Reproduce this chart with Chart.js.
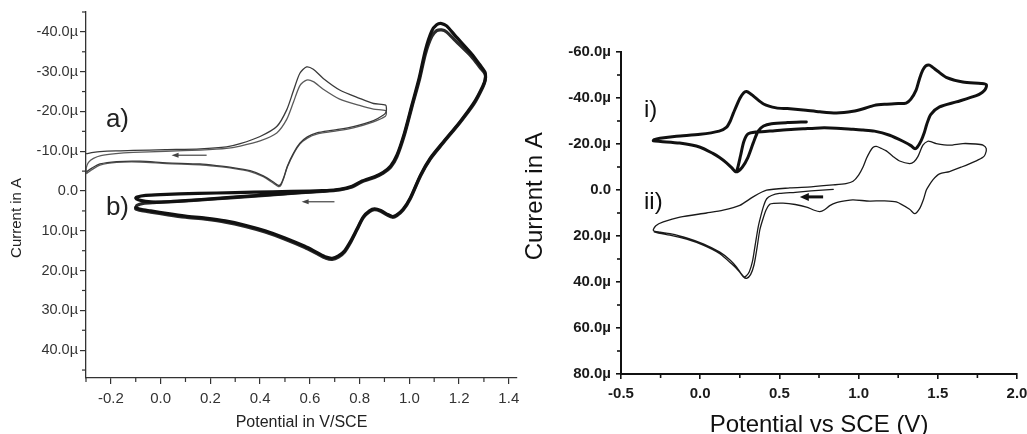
<!DOCTYPE html>
<html>
<head>
<meta charset="utf-8">
<script src="https://cdn.jsdelivr.net/npm/chart.js@4/dist/chart.umd.min.js"></script>
<style>
  body { margin: 0; background: #fff; }
  #wrap { position: relative; width: 1027px; height: 434px; overflow: hidden; background: #fff; }
  #leftChart { position: absolute; left: 0; top: 0; }
  #rightChart { position: absolute; left: 520px; top: 0; }
</style>
</head>
<body>
<div id="wrap">
  <canvas id="leftChart" width="520" height="434"></canvas>
  <canvas id="rightChart" width="507" height="434"></canvas>
</div>
<script>
// ---- left panel: axes ----
const leftXTicks = [-0.2, 0.0, 0.2, 0.4, 0.6, 0.8, 1.0, 1.2, 1.4];
const leftXMinor = [-0.3, -0.1, 0.1, 0.3, 0.5, 0.7, 0.9, 1.1, 1.3];
const leftYTicks = [-40, -30, -20, -10, 0, 10, 20, 30, 40];
const leftYMinor = [-45, -35, -25, -15, -5, 5, 15, 25, 35, 45];

// ---- right panel: axes ----
const rightXTicks = [-0.5, 0.0, 0.5, 1.0, 1.5, 2.0];
const rightXMinor = [-0.25, 0.25, 0.75, 1.25, 1.75];
const rightYTicks = [-60, -40, -20, 0, 20, 40, 60, 80];
const rightYMinor = [-50, -30, -10, 10, 30, 50, 70];

// ---- left panel curves [potential V, current µA] ----
const curveA1 = [[-0.298,-9.4],[-0.27,-9.7],[-0.244,-9.9],[-0.18,-10.1],[-0.11,-10.2],[0.02,-10.4],[0.16,-10.6],[0.265,-11.1],[0.32,-11.9],[0.40,-13.7],[0.467,-16.2],[0.507,-20.4],[0.534,-25.2],[0.56,-29.6],[0.587,-31.2],[0.614,-30.6],[0.654,-28.3],[0.72,-25.4],[0.80,-23.3],[0.856,-22.0],[0.905,-21.6],[0.908,-20.6],[0.906,-19.8],[0.896,-19.1],[0.856,-17.7],[0.775,-16.2],[0.695,-15.3],[0.628,-14.6],[0.59,-13.6],[0.56,-12.0],[0.535,-9.6],[0.51,-6.3],[0.495,-3.4],[0.484,-1.8],[0.474,-1.4],[0.455,-2.2],[0.413,-3.8],[0.36,-5.1],[0.29,-5.9],[0.225,-6.4],[0.158,-6.8],[0.024,-7.1],[-0.083,-7.5],[-0.177,-7.4],[-0.244,-6.8],[-0.278,-5.7],[-0.296,-4.9]];
const curveA2 = [[-0.298,-4.6],[-0.299,-5.8],[-0.29,-7.2],[-0.27,-8.2],[-0.24,-8.9],[-0.18,-9.4],[-0.11,-9.7],[0.02,-10.0],[0.16,-10.3],[0.265,-10.7],[0.32,-11.3],[0.40,-12.6],[0.467,-14.6],[0.507,-18.0],[0.534,-22.3],[0.56,-26.5],[0.587,-27.9],[0.614,-27.5],[0.654,-25.6],[0.72,-23.1],[0.80,-21.5],[0.856,-20.6],[0.905,-20.2],[0.908,-19.6],[0.904,-18.8],[0.856,-17.4],[0.775,-15.9],[0.695,-15.0],[0.628,-14.3],[0.59,-13.3],[0.56,-11.8],[0.535,-9.4],[0.51,-6.1],[0.495,-3.2],[0.484,-1.5],[0.474,-1.1],[0.455,-1.9],[0.413,-3.6],[0.36,-4.9],[0.29,-5.7],[0.225,-6.2],[0.158,-6.6],[0.024,-6.9],[-0.083,-7.3],[-0.177,-7.2],[-0.244,-6.5],[-0.278,-5.3],[-0.298,-4.4]];
const curveB1 = [[0.70,-0.2],[0.60,0.0],[0.45,0.2],[0.30,0.4],[0.15,0.6],[0.0,0.9],[-0.06,1.1],[-0.095,1.5],[-0.1,1.8],[-0.09,2.2],[-0.06,2.6],[-0.02,2.8],[0.05,2.6],[0.15,2.2],[0.28,1.6],[0.42,1.0],[0.55,0.4],[0.65,0.0],[0.72,-0.4],[0.77,-1.2],[0.81,-2.5],[0.86,-3.6],[0.895,-4.7],[0.925,-6.3],[0.95,-9.0],[0.98,-14.5],[1.01,-21.5],[1.04,-28.5],[1.065,-35.5],[1.09,-40.2],[1.11,-41.8],[1.13,-42.1],[1.15,-41.5],[1.185,-39.0],[1.25,-34.5],[1.285,-31.6],[1.305,-29.8],[1.305,-28.0],[1.295,-26.3],[1.26,-22.2],[1.205,-17.5],[1.135,-12.2],[1.085,-8.3],[1.045,-4.0],[1.005,1.6],[0.975,4.6],[0.95,6.0],[0.932,6.4],[0.91,5.8],[0.885,4.9],[0.86,4.5],[0.84,5.0],[0.815,6.5],[0.79,9.5],[0.765,12.5],[0.74,15.0],[0.715,16.3],[0.69,16.9],[0.665,16.6],[0.63,15.5],[0.58,13.9],[0.50,11.8],[0.42,10.0],[0.34,8.6],[0.26,7.5],[0.18,6.8],[0.10,6.3],[0.03,5.7],[-0.04,5.0],[-0.08,4.6],[-0.1,4.2]];
const curveB2 = [[-0.1,4.2],[-0.095,3.6],[-0.07,3.1],[-0.03,2.9],[0.05,2.7],[0.15,2.3],[0.28,1.7],[0.42,1.1],[0.55,0.5],[0.65,0.1],[0.72,-0.3],[0.77,-1.0],[0.81,-2.3],[0.86,-3.4],[0.895,-4.5],[0.925,-6.0],[0.95,-8.6],[0.98,-14.0],[1.01,-21.0],[1.04,-27.8],[1.065,-34.5],[1.09,-38.8],[1.11,-40.3],[1.13,-40.5],[1.15,-40.0],[1.185,-37.8],[1.25,-33.8],[1.285,-31.0],[1.305,-29.4],[1.305,-27.8],[1.295,-26.0],[1.26,-21.9],[1.205,-17.3],[1.135,-12.0],[1.085,-8.1],[1.045,-3.8],[1.005,1.8],[0.975,4.8],[0.95,6.2],[0.932,6.6],[0.91,6.0],[0.885,5.1],[0.86,4.7],[0.84,5.2],[0.815,6.7],[0.79,9.7],[0.765,12.8],[0.74,15.3],[0.715,16.6],[0.69,17.2],[0.665,16.9],[0.63,15.8],[0.58,14.2],[0.50,12.1],[0.42,10.3],[0.34,8.9],[0.26,7.8],[0.18,7.1],[0.10,6.6],[0.03,6.0],[-0.04,5.3],[-0.08,4.9],[-0.1,4.5]];

// ---- right panel curves ----
const curveI = [[0.67,-29.6],[0.55,-29.3],[0.45,-28.8],[0.40,-27.8],[0.365,-25.5],[0.335,-20.5],[0.30,-14.0],[0.265,-9.8],[0.24,-8.2],[0.222,-8.0],[0.20,-9.6],[0.166,-11.8],[0.12,-14.2],[0.08,-15.9],[0.0,-18.6],[-0.13,-20.4],[-0.25,-21.1],[-0.296,-21.4],[-0.29,-21.9],[-0.254,-22.5],[-0.15,-23.4],[0.0,-24.2],[0.12,-25.6],[0.165,-27.2],[0.19,-30.0],[0.21,-33.5],[0.25,-39.8],[0.275,-42.3],[0.292,-42.8],[0.315,-42.0],[0.34,-40.6],[0.40,-37.4],[0.48,-35.7],[0.55,-35.4],[0.65,-34.8],[0.755,-34.0],[0.86,-33.5],[0.965,-34.2],[1.03,-35.3],[1.10,-36.8],[1.17,-37.3],[1.25,-37.6],[1.30,-37.8],[1.33,-39.5],[1.363,-43.4],[1.385,-48.5],[1.405,-52.1],[1.425,-54.0],[1.448,-54.3],[1.47,-53.2],[1.50,-51.6],[1.553,-49.0],[1.658,-47.0],[1.774,-46.3],[1.806,-45.8],[1.80,-43.8],[1.78,-42.4],[1.743,-41.0],[1.617,-38.3],[1.511,-36.1],[1.455,-32.8],[1.43,-28.5],[1.415,-25.0],[1.395,-21.5],[1.37,-18.6],[1.354,-18.0],[1.33,-19.3],[1.28,-21.2],[1.196,-23.8],[1.10,-25.6],[1.028,-26.1],[0.965,-26.4],[0.86,-26.9],[0.755,-27.0],[0.65,-26.6],[0.545,-26.2],[0.44,-25.6],[0.35,-25.2],[0.30,-24.3],[0.275,-21.0],[0.255,-15.0],[0.24,-10.5],[0.232,-8.5]];
const curveII = [[0.84,-0.3],[0.70,0.4],[0.60,1.0],[0.50,1.5],[0.45,2.4],[0.42,3.8],[0.40,7.0],[0.38,12.0],[0.366,16.1],[0.345,24.8],[0.33,31.0],[0.31,35.5],[0.29,37.4],[0.277,37.8],[0.26,36.5],[0.23,33.5],[0.19,30.5],[0.124,27.0],[0.019,23.4],[-0.086,20.8],[-0.191,19.0],[-0.254,18.3],[-0.296,17.6],[-0.28,15.5],[-0.233,13.9],[-0.128,11.8],[0.04,10.0],[0.145,8.8],[0.25,6.7],[0.334,3.0],[0.419,0.1],[0.566,-0.9],[0.70,-1.4],[0.839,-2.2],[0.92,-2.8],[0.965,-3.8],[1.0,-6.5],[1.028,-10.0],[1.05,-13.8],[1.07,-16.5],[1.09,-18.5],[1.112,-19.0],[1.14,-18.2],[1.175,-17.0],[1.217,-14.6],[1.259,-12.6],[1.322,-11.5],[1.35,-12.3],[1.375,-14.6],[1.406,-19.5],[1.437,-21.2],[1.46,-20.9],[1.49,-20.2],[1.574,-19.5],[1.659,-20.2],[1.74,-20.0],[1.785,-19.5],[1.806,-18.0],[1.80,-15.6],[1.785,-14.2],[1.743,-12.7],[1.65,-10.0],[1.574,-8.0],[1.511,-7.0],[1.47,-4.5],[1.44,-1.5],[1.427,0.1],[1.41,4.0],[1.385,8.1],[1.354,10.3],[1.322,8.4],[1.238,5.2],[1.154,4.7],[1.07,4.8],[0.965,4.3],[0.923,4.6],[0.86,5.5],[0.818,6.8],[0.785,8.6],[0.755,9.4],[0.72,8.8],[0.671,7.4],[0.60,6.3],[0.523,5.7],[0.465,5.8],[0.439,6.2],[0.415,8.8],[0.392,13.5],[0.376,17.5],[0.358,25.5],[0.34,32.5],[0.318,36.8],[0.293,38.4],[0.272,37.7],[0.245,35.3],[0.20,32.2],[0.124,27.7],[0.019,24.0],[-0.086,21.4],[-0.191,19.6],[-0.254,18.8],[-0.29,18.2]];

// ---- annotations: arrows (from x0 to x1 at current y) and panel tags ----
const leftArrows = [{ x0: 0.185, x1: 0.044, y: -9.0 }, { x0: 0.699, x1: 0.567, y: 2.7 }];
const rightArrows = [{ x0: 0.776, x1: 0.629, y: 3.0 }];
const leftTags = [{ text: 'a)', x: -0.22, y: -17.8 }, { text: 'b)', x: -0.22, y: 4.3 }];
const rightTags = [{ text: 'i)', x: -0.355, y: -34.7 }, { text: 'ii)', x: -0.355, y: 5.2 }];

const FONT = "'Liberation Sans', Arial, sans-serif";

function fmtMicro(v) { return v === 0 ? '0.0' : v.toFixed(1) + 'µ'; }
function fmtVolt(v) { return v.toFixed(1); }

function curve(points, color, width) {
  return {
    data: points.map(p => ({ x: p[0], y: p[1] })),
    showLine: true,
    borderColor: color,
    borderWidth: width,
    pointRadius: 0,
    tension: 0.25,
    fill: false,
    borderJoinStyle: 'round',
    borderCapStyle: 'round'
  };
}

// minor ticks, arrows and the a)/b)/i)/ii) tags
const extras = {
  id: 'extras',
  afterDatasetsDraw(chart, args, opts) {
    const ctx = chart.ctx, xs = chart.scales.x, ys = chart.scales.y;
    ctx.save();
    ctx.strokeStyle = opts.axisColor;
    ctx.lineWidth = opts.tickWidth;
    opts.xMinor.forEach(v => {
      const px = xs.getPixelForValue(v);
      ctx.beginPath(); ctx.moveTo(px, ys.bottom); ctx.lineTo(px, ys.bottom + opts.minorLen); ctx.stroke();
    });
    opts.yMinor.forEach(v => {
      const py = ys.getPixelForValue(v);
      ctx.beginPath(); ctx.moveTo(xs.left, py); ctx.lineTo(xs.left - opts.minorLen, py); ctx.stroke();
    });

    ctx.strokeStyle = opts.arrowColor;
    ctx.fillStyle = opts.arrowColor;
    ctx.lineWidth = opts.arrowWidth;
    opts.arrows.forEach(a => {
      const p0 = xs.getPixelForValue(a.x0), p1 = xs.getPixelForValue(a.x1), py = ys.getPixelForValue(a.y);
      const dir = p1 < p0 ? 1 : -1;
      ctx.beginPath(); ctx.moveTo(p0, py); ctx.lineTo(p1 + dir * opts.headLen * 0.6, py); ctx.stroke();
      ctx.beginPath();
      ctx.moveTo(p1, py);
      ctx.lineTo(p1 + dir * opts.headLen, py - opts.headW);
      ctx.lineTo(p1 + dir * opts.headLen, py + opts.headW);
      ctx.closePath(); ctx.fill();
    });

    ctx.fillStyle = opts.tagColor;
    ctx.font = opts.tagFont;
    ctx.textAlign = 'left';
    ctx.textBaseline = 'middle';
    opts.tags.forEach(t => ctx.fillText(t.text, xs.getPixelForValue(t.x), ys.getPixelForValue(t.y)));
    ctx.restore();
  }
};

// ---------- left chart ----------
new Chart(document.getElementById('leftChart'), {
  type: 'scatter',
  data: {
    datasets: [
      curve(curveA1, '#3a3a3a', 1.3),
      curve(curveA2, '#5a5a5a', 1.3),
      curve(curveB1, '#111', 3.2),
      curve(curveB2, '#2a2a2a', 3.2)
    ]
  },
  options: {
    responsive: false,
    animation: false,
    layout: { padding: { top: 12, right: 3, left: 0, bottom: 0 } },
    plugins: {
      legend: { display: false },
      tooltip: { enabled: false },
      extras: {
        xMinor: leftXMinor, yMinor: leftYMinor, minorLen: 4, tickWidth: 1.2, axisColor: '#333',
        arrows: leftArrows, arrowColor: '#444', arrowWidth: 1.2, headLen: 7, headW: 2.5,
        tags: leftTags, tagColor: '#222', tagFont: '26px ' + FONT
      }
    },
    scales: {
      x: {
        type: 'linear', min: -0.3, max: 1.433,
        afterBuildTicks: s => { s.ticks = leftXTicks.map(v => ({ value: v })); },
        afterFit: s => { s.height = 56; s.paddingLeft = 0; s.paddingRight = 0; },
        grid: { drawOnChartArea: false, tickLength: 6, color: '#333', lineWidth: 1.2 },
        border: { color: '#333', width: 1.3 },
        ticks: { autoSkip: false, maxRotation: 0, padding: 6, color: '#333', font: { family: FONT, size: 15 }, callback: v => fmtVolt(v) },
        title: { display: true, text: 'Potential in V/SCE', color: '#222', font: { family: FONT, size: 16, lineHeight: 1 }, padding: { top: 0, bottom: 3 } }
      },
      y: {
        type: 'linear', reverse: true, min: -45, max: 47,
        afterBuildTicks: s => { s.ticks = leftYTicks.map(v => ({ value: v })); },
        afterFit: s => { s.width = 86; s.paddingTop = 0; s.paddingBottom = 0; },
        grid: { drawOnChartArea: false, tickLength: 6, color: '#333', lineWidth: 1.2 },
        border: { color: '#333', width: 1.3 },
        ticks: { autoSkip: false, padding: 2, color: '#333', font: { family: FONT, size: 14.5 }, callback: v => fmtMicro(v) },
        title: { display: true, text: 'Current in A' + ' '.repeat(11), color: '#222', font: { family: FONT, size: 15, lineHeight: 1 }, padding: { top: 9, bottom: 0 } }
      }
    }
  },
  plugins: [extras]
});

// ---------- right chart ----------
new Chart(document.getElementById('rightChart'), {
  type: 'scatter',
  data: {
    datasets: [
      curve(curveI, '#111', 3),
      curve(curveII, '#1a1a1a', 1.3)
    ]
  },
  options: {
    responsive: false,
    animation: false,
    layout: { padding: { top: 52, right: 10, left: 0, bottom: 0 } },
    plugins: {
      legend: { display: false },
      tooltip: { enabled: false },
      extras: {
        xMinor: rightXMinor, yMinor: rightYMinor, minorLen: 4, tickWidth: 1.6, axisColor: '#111',
        arrows: rightArrows, arrowColor: '#111', arrowWidth: 3, headLen: 9, headW: 4,
        tags: rightTags, tagColor: '#111', tagFont: '24px ' + FONT
      }
    },
    scales: {
      x: {
        type: 'linear', min: -0.5, max: 2.0,
        afterBuildTicks: s => { s.ticks = rightXTicks.map(v => ({ value: v })); },
        afterFit: s => { s.height = 60; s.paddingLeft = 0; s.paddingRight = 0; },
        grid: { drawOnChartArea: false, tickLength: 5, color: '#111', lineWidth: 1.6 },
        border: { color: '#111', width: 2 },
        ticks: { autoSkip: false, maxRotation: 0, padding: 6, color: '#1a1a1a', font: { family: FONT, size: 15, weight: 'bold' }, callback: v => fmtVolt(v) },
        title: { display: true, text: 'Potential vs SCE (V)', color: '#111', font: { family: FONT, size: 24, lineHeight: 1 }, padding: { top: 0, bottom: -3 } }
      },
      y: {
        type: 'linear', reverse: true, min: -60, max: 80,
        afterBuildTicks: s => { s.ticks = rightYTicks.map(v => ({ value: v })); },
        afterFit: s => { s.width = 101; s.paddingTop = 0; s.paddingBottom = 0; },
        grid: { drawOnChartArea: false, tickLength: 5, color: '#111', lineWidth: 1.6 },
        border: { color: '#111', width: 2 },
        ticks: { autoSkip: false, padding: 5, color: '#1a1a1a', font: { family: FONT, size: 15, weight: 'bold' }, callback: v => fmtMicro(v) },
        title: { display: true, text: ' '.repeat(5) + 'Current in A', color: '#111', font: { family: FONT, size: 24, lineHeight: 1 }, padding: { top: 3, bottom: 0 } }
      }
    }
  },
  plugins: [extras]
});
</script>
</body>
</html>
